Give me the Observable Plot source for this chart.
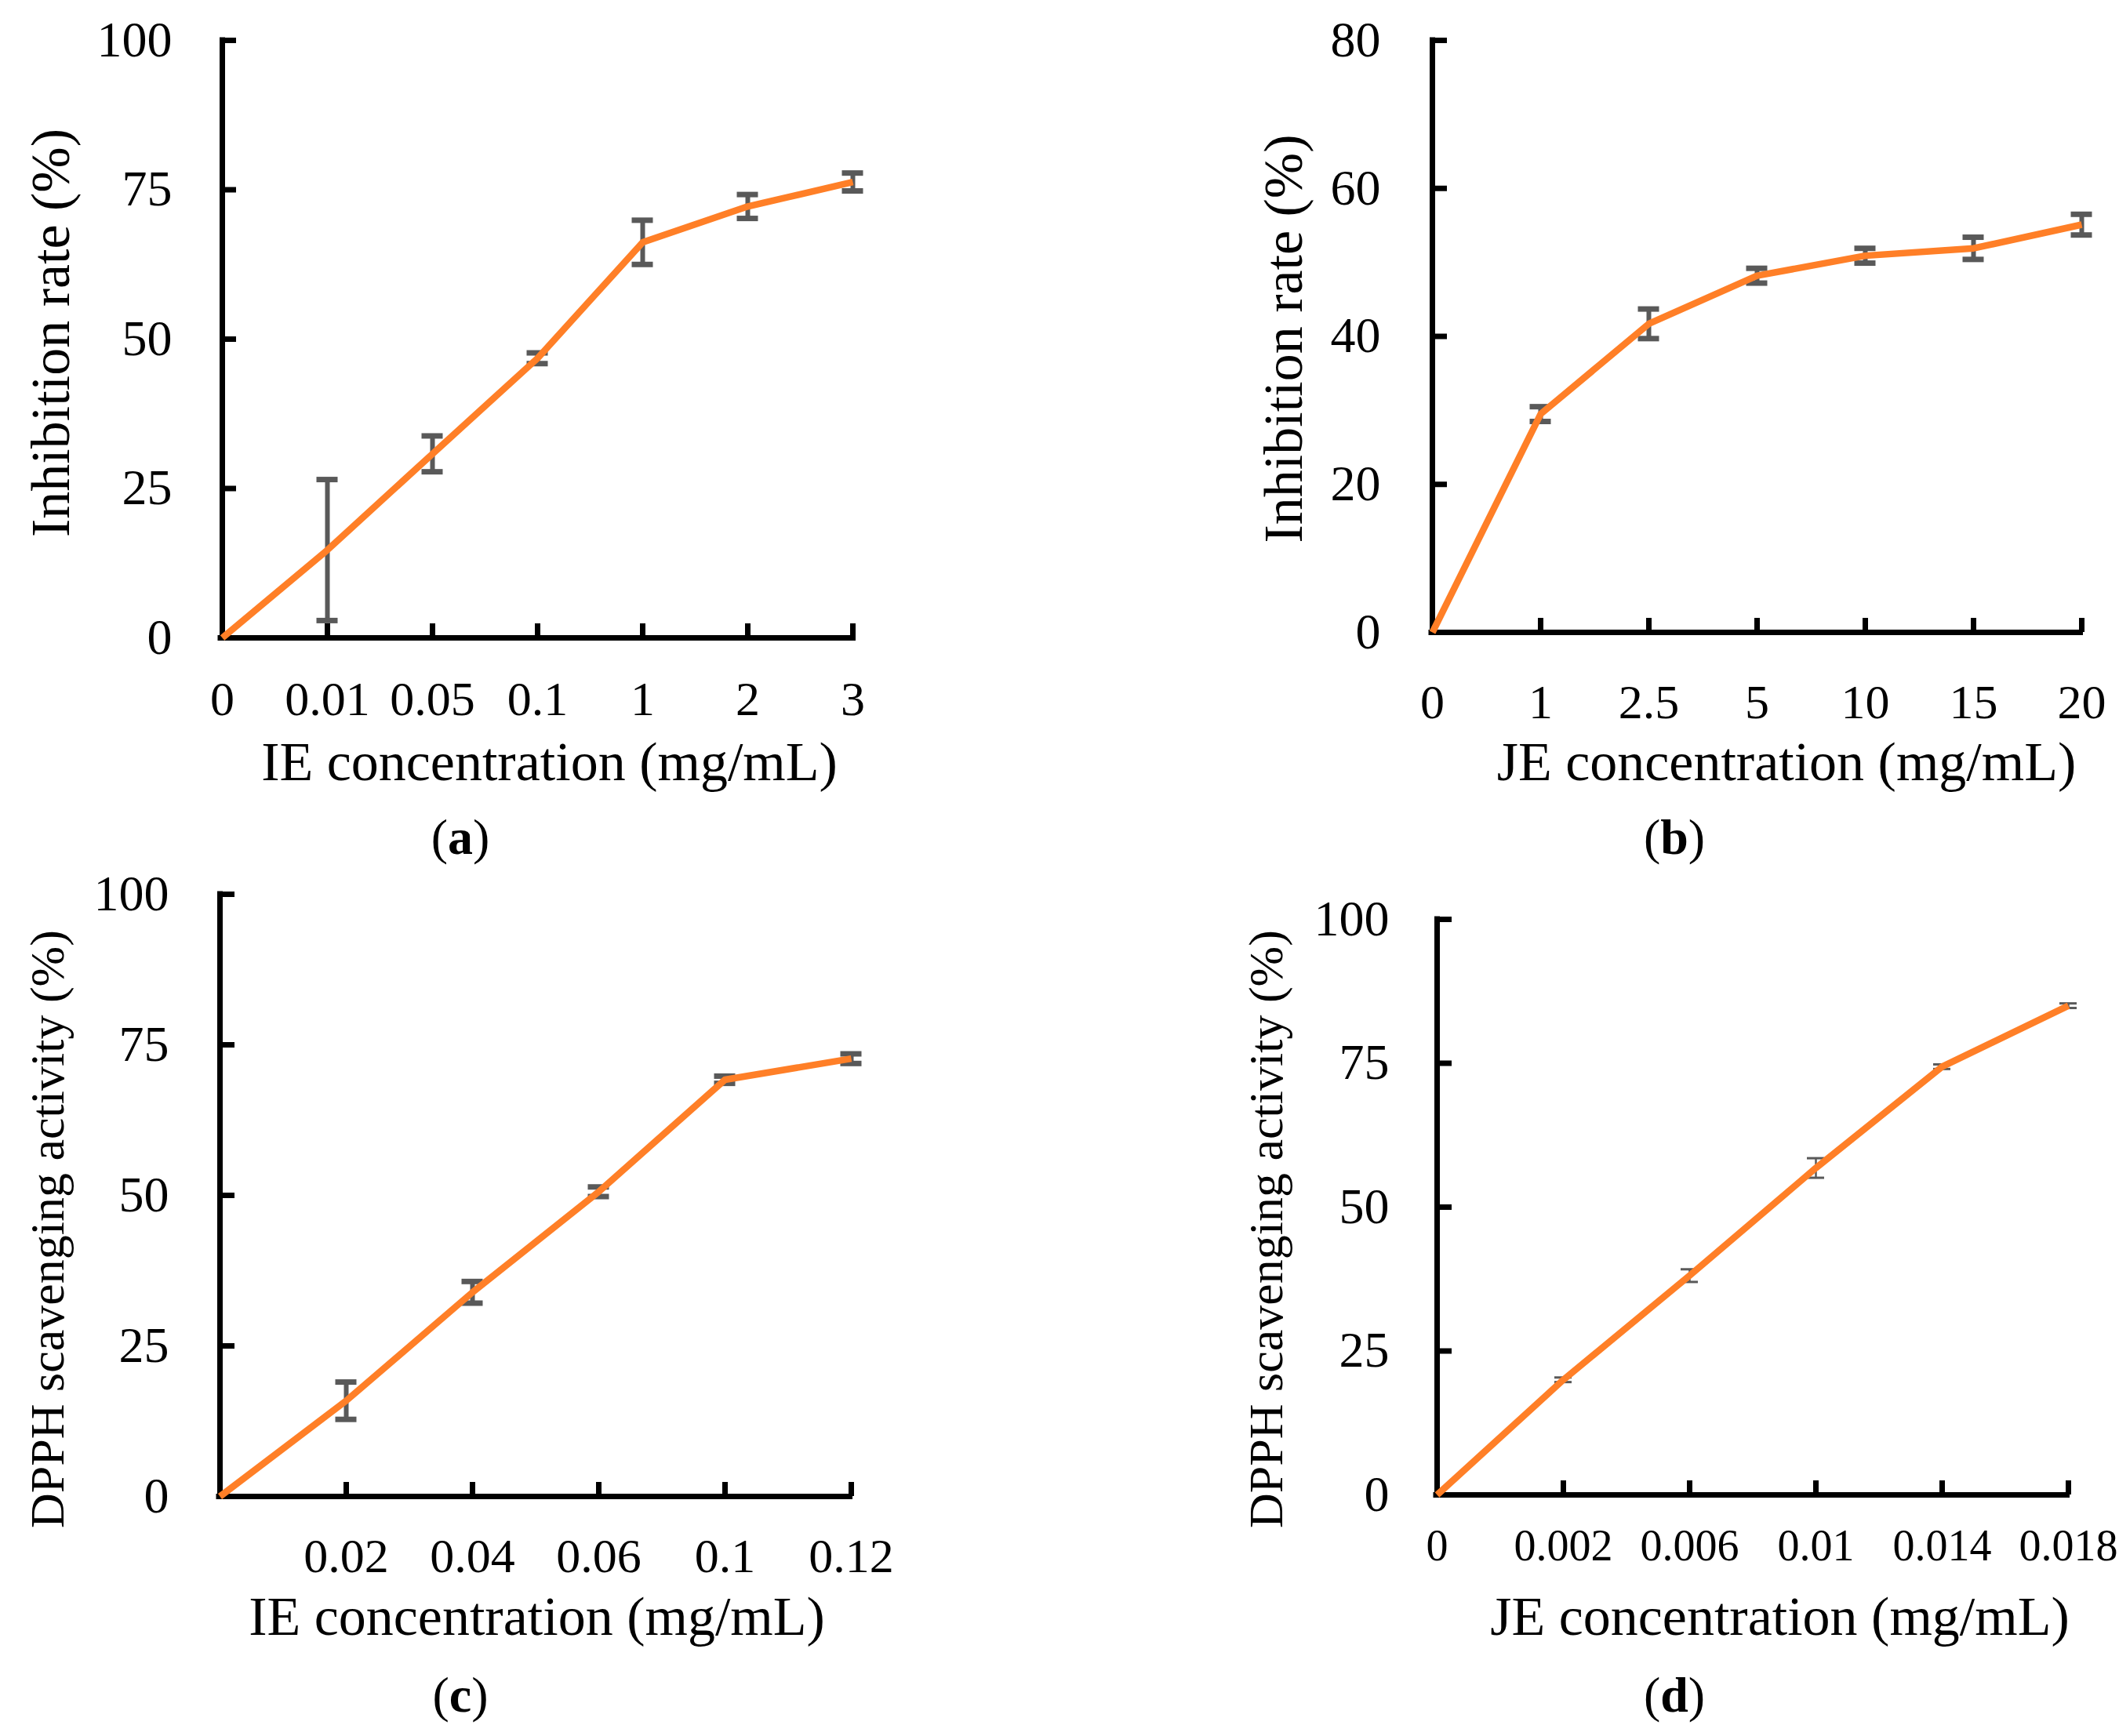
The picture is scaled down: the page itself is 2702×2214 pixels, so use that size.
<!DOCTYPE html>
<html>
<head>
<meta charset="utf-8">
<script src="https://cdn.jsdelivr.net/npm/d3@7"></script>
<script src="https://cdn.jsdelivr.net/npm/@observablehq/plot@0.6"></script>
<style>
  html, body { margin: 0; padding: 0; background: #fff; }
  #root { position: relative; width: 2702px; height: 2214px; background: #fff; overflow: hidden; }
  .panel { position: absolute; }
  .cap { position: absolute; transform: translate(-50%, -50%); font-family: "Liberation Serif", "Times New Roman", serif; font-size: 64px; color: #000; white-space: nowrap; }
</style>
</head>
<body>
<div id="root"></div>
<script>
// ---------- data ----------
const catA = ["0", "0.01", "0.05", "0.1", "1", "2", "3"];
const valA = [0, 14.7, 30.8, 46.8, 66.2, 72.2, 76.3];
const errA = [0, 11.8, 3.0, 0.9, 3.7, 2.0, 1.5];

const catB = ["0", "1", "2.5", "5", "10", "15", "20"];
const valB = [0, 29.5, 41.7, 48.2, 50.9, 51.9, 55.1];
const errB = [0, 1.0, 2.0, 1.0, 1.0, 1.5, 1.4];

const catC = ["0", "0.02", "0.04", "0.06", "0.1", "0.12"];
const valC = [0, 15.9, 33.9, 50.6, 69.2, 72.7];
const errC = [0, 3.1, 1.8, 0.8, 0.6, 0.8];

const catD = ["0", "0.002", "0.006", "0.01", "0.014", "0.018"];
const valD = [0, 20.0, 38.1, 56.8, 74.4, 85.0];
const errD = [0, 0.4, 1.1, 1.7, 0.4, 0.4];

const yTicksA = [0, 25, 50, 75, 100];
const yTicksB = [0, 20, 40, 60, 80];
const yTicksC = [0, 25, 50, 75, 100];
const yTicksD = [0, 25, 50, 75, 100];

const labelInhib = "Inhibition rate (%)";
const labelDPPH = "DPPH scavenging activity (%)";
const labelIE = "IE concentration (mg/mL)";
const labelJE = "JE concentration (mg/mL)";

// ---------- drawing ----------
const FONT = "'Liberation Serif', 'Times New Roman', serif";
const ORANGE = "#FF7F27";
const ERR = "#595959";

function panel(o) {
  const data = o.cats.map((c, i) => ({c, v: o.vals[i], e: o.errs[i]}));
  const errData = data.filter(d => d.e > 0);
  const fw = o.width - o.m.left - o.m.right;
  const fh = o.height - o.m.top - o.m.bottom;
  const thin = o.thinErr;
  return Plot.plot({
    width: o.width,
    height: o.height,
    marginTop: o.m.top,
    marginRight: o.m.right,
    marginBottom: o.m.bottom,
    marginLeft: o.m.left,
    style: {fontFamily: FONT, background: "#fff", color: "#000", overflow: "visible"},
    x: {type: "point", domain: o.cats, padding: 0},
    y: {domain: [o.yTicks[0], o.yTicks[o.yTicks.length - 1]]},
    marks: [
      // error bars
      Plot.ruleX(errData, {x: "c", y1: d => d.v - d.e, y2: d => d.v + d.e, stroke: ERR, strokeWidth: thin ? 2.5 : 6}),
      Plot.ruleY(errData, {y: d => d.v + d.e, x1: "c", x2: "c", insetLeft: thin ? -11 : -13.5, insetRight: thin ? -11 : -13.5, stroke: ERR, strokeWidth: thin ? 3 : 7}),
      Plot.ruleY(errData, {y: d => d.v - d.e, x1: "c", x2: "c", insetLeft: thin ? -11 : -13.5, insetRight: thin ? -11 : -13.5, stroke: ERR, strokeWidth: thin ? 3 : 7}),
      // axis lines
      Plot.ruleY([o.yTicks[0]], {stroke: "#000", strokeWidth: 7, insetLeft: -3.5, insetRight: -2}),
      Plot.ruleX([o.cats[0]], {x: d => d, stroke: "#000", strokeWidth: 7, insetTop: -3.5, insetBottom: -3.5}),
      // inward ticks
      Plot.tickY(o.yTicks.slice(1), {y: d => d, stroke: "#000", strokeWidth: 7, insetRight: fw - 20}),
      Plot.tickX(o.cats.slice(1), {x: d => d, stroke: "#000", strokeWidth: 7, insetTop: fh - 18}),
      // series line
      Plot.line(data, {x: "c", y: "v", stroke: ORANGE, strokeWidth: 8.5, strokeLinejoin: "round", strokeLinecap: "butt"}),
      // tick labels
      Plot.axisX({tickSize: 0, tickPadding: o.xPad, fontSize: o.xFont, label: null,
        tickFormat: d => (o.hideZero && d === "0") ? "" : d}),
      Plot.axisY({ticks: o.yTicks, tickSize: 0, tickPadding: o.yPad, fontSize: 64, label: null}),
      // axis titles
      Plot.text([o.yLabel], {text: d => d, frameAnchor: "left", rotate: -90, dx: o.yTitle.dx, dy: o.yTitle.dy,
        fontSize: o.yTitle.size, lineAnchor: "middle", textAnchor: "middle", fill: "#000"}),
      Plot.text([o.xLabel], {text: d => d, frameAnchor: "bottom", dx: o.xTitle.dx, dy: o.xTitle.dy,
        fontSize: 70, lineAnchor: "middle", textAnchor: "middle", fill: "#000"})
    ]
  });
}

const root = document.getElementById("root");

function place(svg, left, top) {
  const d = document.createElement("div");
  d.className = "panel";
  d.style.left = left + "px";
  d.style.top = top + "px";
  d.appendChild(svg);
  root.appendChild(d);
}
function caption(letter, x, y) {
  const d = document.createElement("div");
  d.className = "cap";
  d.style.left = x + "px";
  d.style.top = y + "px";
  d.innerHTML = "(<b>" + letter + "</b>)";
  root.appendChild(d);
}

place(panel({
  cats: catA, vals: valA, errs: errA, yTicks: yTicksA,
  width: 1351, height: 1020, m: {top: 51, right: 262, bottom: 207, left: 281},
  xPad: 54, xFont: 62, yPad: 62,
  yLabel: labelInhib, yTitle: {dx: -216, dy: -8, size: 70},
  xLabel: labelIE, xTitle: {dx: 15, dy: 159}
}), 0, 0);

place(panel({
  cats: catB, vals: valB, errs: errB, yTicks: yTicksB,
  width: 1351, height: 1020, m: {top: 51, right: 48, bottom: 214, left: 474},
  xPad: 65, xFont: 62, yPad: 65,
  yLabel: labelInhib, yTitle: {dx: -188, dy: 3, size: 70},
  xLabel: labelJE, xTitle: {dx: 38, dy: 166}
}), 1351, 0);

place(panel({
  cats: catC, vals: valC, errs: errC, yTicks: yTicksC, hideZero: true,
  width: 1351, height: 1010, m: {top: 33, right: 266, bottom: 209, left: 279},
  xPad: 52, xFont: 62, yPad: 64,
  yLabel: labelDPPH, yTitle: {dx: -218, dy: 43, size: 62},
  xLabel: labelIE, xTitle: {dx: 2, dy: 154}
}), 0, 1107);

place(panel({
  cats: catD, vals: valD, errs: errD, yTicks: yTicksD, thinErr: true,
  width: 1351, height: 1010, m: {top: 65, right: 65, bottom: 211, left: 480},
  xPad: 44, xFont: 56, yPad: 60,
  yLabel: labelDPPH, yTitle: {dx: -216, dy: 28, size: 62},
  xLabel: labelJE, xTitle: {dx: 35, dy: 156}
}), 1351, 1107);

caption("a", 587, 1068);
caption("b", 2135, 1068);
caption("c", 587, 2162);
caption("d", 2135, 2162);
</script>
</body>
</html>
